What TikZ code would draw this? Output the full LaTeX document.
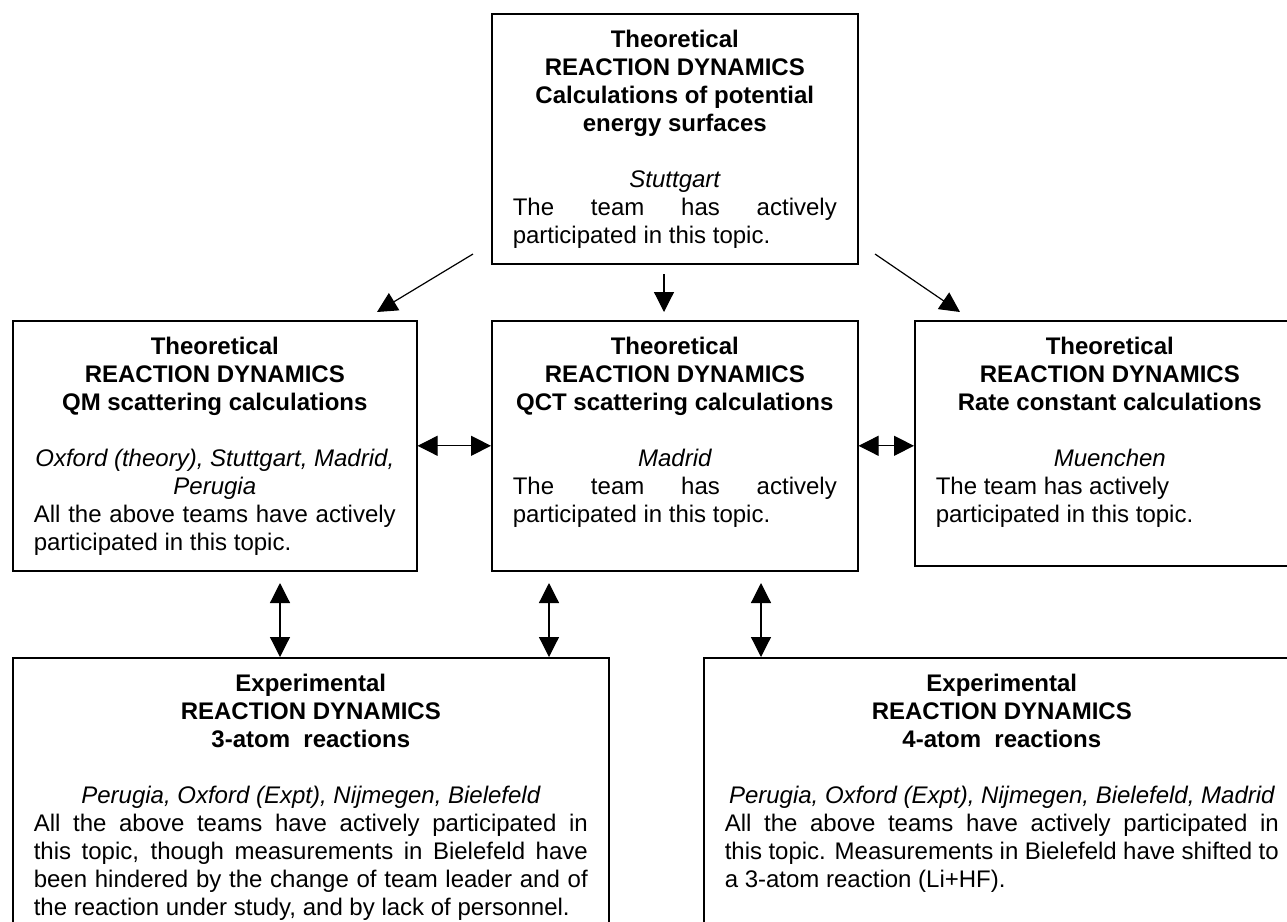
\documentclass[tikz,border=0pt]{standalone}
\usepackage{fontspec}
\setmainfont{Liberation Sans}
\usetikzlibrary{arrows.meta, calc}

\newcommand{\boxtext}[3]{\parbox[t][#2][t]{#1}{#3}}
\newcommand{\heading}[1]{{\centering\bfseries #1\par}\vspace{14pt}}
\newcommand{\teams}[1]{{\centering\itshape #1\par}}

\begin{document}
\begin{tikzpicture}[x=0.5pt, y=-0.5pt,
	every node/.style={font=\fontsize{12}{14}\selectfont},
	panel/.style={draw, line width=0.8pt, anchor=north west, inner xsep=10.5pt, inner ysep=8pt},
	link/.style={line width=0.6pt, -{Triangle[length=10pt, width=10pt]}},
	duallink/.style={line width=0.6pt, {Triangle[length=10pt, width=10pt]}-{Triangle[length=10pt, width=10pt]}}]
	\useasboundingbox (0,0) rectangle (1287,922);
	\clip (0,0) rectangle (1287,922);

	\node [panel] (pes) at (491,13) {\boxtext{162pt}{109pt}{%
		\heading{Theoretical\\REACTION DYNAMICS\\Calculations of potential\\energy surfaces}
		\teams{Stuttgart}
		The team has actively\linebreak participated in this topic.}};

	\node [panel] (qm) at (12,320) {\boxtext{181pt}{109pt}{%
		\heading{Theoretical\\REACTION DYNAMICS\\QM scattering calculations}
		\teams{Oxford (theory), Stuttgart, Madrid,\\Perugia}
		All the above teams have actively\linebreak participated in this topic.}};

	\node [panel] (qct) at (491,320) {\boxtext{162pt}{109pt}{%
		\heading{Theoretical\\REACTION DYNAMICS\\QCT scattering calculations}
		\teams{Madrid}
		The team has actively\linebreak participated in this topic.}};

	\node [panel] (rate) at (914,320) {\boxtext{174pt}{106.5pt}{%
		\heading{Theoretical\\REACTION DYNAMICS\\Rate constant calculations}
		\teams{Muenchen}
		The team has actively\\participated in this topic.}};

	\node [panel] (three) at (12,657) {\boxtext{277pt}{134pt}{%
		\heading{Experimental\\REACTION DYNAMICS\\3-atom\ \ reactions}
		\teams{Perugia, Oxford (Expt), Nijmegen, Bielefeld}
		All the above teams have actively participated in\linebreak
		this topic, though measurements in Bielefeld have\linebreak
		been hindered by the change of team leader and of\linebreak
		the reaction under study, and by lack of personnel.}};

	\node [panel] (four) at (703,657) {\boxtext{277pt}{134pt}{%
		\heading{Experimental\\REACTION DYNAMICS\\4-atom\ \ reactions}
		\teams{Perugia, Oxford (Expt), Nijmegen, Bielefeld, Madrid}
		All the above teams have actively participated in\linebreak
		this topic. Measurements in Bielefeld have shifted to\linebreak
		a 3-atom reaction (Li+HF).}};

	\coordinate (S1) at (473,254);
	\coordinate (E1) at (377,312);
	\coordinate (S2) at (664,274);
	\coordinate (E2) at (664,312);
	\coordinate (S3) at (875,254);
	\coordinate (E3) at (960,312);
	\draw [link] (S1) -- (E1);
	\draw [link] (S2) -- (E2);
	\draw [link] (S3) -- (E3);

	\draw [duallink] (qm.east) -- (qct.west);
	\draw [duallink] (qct.east) -- (qct.east -| rate.west);

	\coordinate (U1) at (280,583);
	\coordinate (U2) at (549,583);
	\coordinate (U3) at (761,583);
	\draw [duallink] (U1) -- (U1 |- three.north);
	\draw [duallink] (U2) -- (U2 |- three.north);
	\draw [duallink] (U3) -- (U3 |- four.north);

\end{tikzpicture}
\end{document}
